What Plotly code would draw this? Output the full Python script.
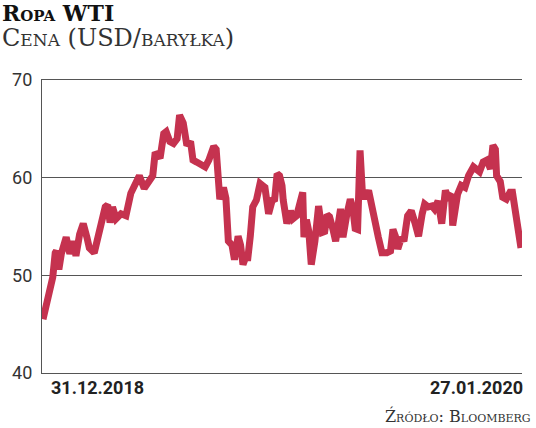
import plotly.graph_objects as go

dates = [
    "2018-12-31", "2019-01-04", "2019-01-08", "2019-01-10", "2019-01-11", "2019-01-13",
    "2019-01-15", "2019-01-19", "2019-01-22", "2019-01-25", "2019-01-27", "2019-01-30",
    "2019-02-02", "2019-02-05", "2019-02-07", "2019-02-11", "2019-02-15", "2019-02-20",
    "2019-02-22", "2019-02-24", "2019-02-26", "2019-03-01", "2019-03-05", "2019-03-09",
    "2019-03-13", "2019-03-18", "2019-03-20", "2019-03-24", "2019-03-28", "2019-03-31",
    "2019-04-02", "2019-04-05", "2019-04-06", "2019-04-09", "2019-04-11", "2019-04-14",
    "2019-04-17", "2019-04-20", "2019-04-22", "2019-04-25", "2019-04-28", "2019-05-01",
    "2019-05-03", "2019-05-06", "2019-05-09", "2019-05-13", "2019-05-16", "2019-05-20",
    "2019-05-22", "2019-05-25", "2019-05-28", "2019-05-30", "2019-06-01", "2019-06-04",
    "2019-06-06", "2019-06-09", "2019-06-11", "2019-06-13", "2019-06-15", "2019-06-17",
    "2019-06-19", "2019-06-21", "2019-06-24", "2019-06-27", "2019-06-29", "2019-07-01",
    "2019-07-04", "2019-07-07", "2019-07-09", "2019-07-11", "2019-07-13", "2019-07-15",
    "2019-07-16", "2019-07-19", "2019-07-22", "2019-07-24", "2019-07-27", "2019-07-30",
    "2019-08-01", "2019-08-02", "2019-08-04", "2019-08-06", "2019-08-08", "2019-08-11",
    "2019-08-14", "2019-08-17", "2019-08-19", "2019-08-21", "2019-08-23", "2019-08-26",
    "2019-08-28", "2019-09-01", "2019-09-03", "2019-09-06", "2019-09-09", "2019-09-11",
    "2019-09-13", "2019-09-15", "2019-09-17", "2019-09-19", "2019-09-21", "2019-09-24",
    "2019-09-27", "2019-09-29", "2019-10-02", "2019-10-05", "2019-10-09", "2019-10-12",
    "2019-10-14", "2019-10-16", "2019-10-18", "2019-10-21", "2019-10-23", "2019-10-26",
    "2019-10-29", "2019-11-01", "2019-11-04", "2019-11-07", "2019-11-09", "2019-11-12",
    "2019-11-15", "2019-11-17", "2019-11-20", "2019-11-23", "2019-11-26", "2019-11-28",
    "2019-12-01", "2019-12-02", "2019-12-04", "2019-12-06", "2019-12-09", "2019-12-12",
    "2019-12-15", "2019-12-19", "2019-12-22", "2019-12-24", "2019-12-27", "2019-12-30",
    "2020-01-02", "2020-01-04", "2020-01-06", "2020-01-07", "2020-01-10", "2020-01-12",
    "2020-01-15", "2020-01-18", "2020-01-20", "2020-01-23", "2020-01-27",
]

prices = [
    45.5, 47.4, 49.8, 52.3, 52.5, 50.6,
    52.2, 53.9, 52.2, 53.5, 52.0, 54.2,
    55.3, 53.9, 52.8, 52.3, 54.2, 57.0,
    57.2, 55.4, 57.0, 55.8, 56.3, 56.1,
    58.4, 59.5, 60.2, 58.9, 59.7, 60.2,
    62.6, 62.3, 62.0, 64.5, 64.7, 63.7,
    63.5, 64.0, 66.4, 65.6, 63.3, 63.7,
    61.8, 61.6, 61.4, 61.1, 61.8, 63.2,
    62.9, 57.8, 59.0, 57.9, 53.5, 53.1,
    51.6, 54.0, 53.1, 51.1, 51.8, 51.8,
    54.0, 57.0, 57.7, 59.4, 59.2, 59.0,
    56.3, 57.7, 57.8, 60.4, 60.2, 59.2,
    57.7, 55.3, 56.6, 55.8, 56.1, 58.0,
    58.5, 53.9, 55.7, 54.5, 51.1, 53.5,
    57.1, 54.4, 54.5, 56.2, 56.0, 54.6,
    53.5, 56.8, 53.9, 56.1, 57.8, 56.9,
    54.8, 54.7, 62.8, 58.3, 57.9, 58.7,
    56.6, 56.1, 53.9, 52.3, 52.3, 52.5,
    54.7, 54.0, 52.7, 53.9, 53.5, 56.1,
    56.6, 55.4, 54.0, 56.3, 57.3, 57.0,
    57.1, 56.8, 57.6, 55.3, 58.7, 58.0,
    58.3, 55.1, 56.6, 58.3, 59.2, 59.0,
    60.2, 61.1, 60.8, 60.6, 61.6, 61.8,
    60.9, 63.3, 62.9, 60.2, 59.6, 58.0,
    57.8, 58.5, 58.5, 55.8, 52.8,
]

y_ticks = [40, 50, 60, 70]
first_label = "31.12.2018"
last_label = "27.01.2020"
title_text = "Ropa WTI"
subtitle_text = "Cena (USD/baryłka)"
source_text = "Źródło: Bloomberg"

LINE = "#C5324F"
GRID = "#555555"

fig = go.Figure()
fig.add_trace(go.Scatter(
    x=dates, y=prices, mode="lines",
    line=dict(color=LINE, width=7),
    hoverinfo="skip", showlegend=False,
))

PW, PH = 480, 293  # plot area size in px

header = (
    "<span style='font-size:22px;color:#111111'><b>" + title_text + "</b></span><br>"
    "<span style='font-size:24px;color:#333333'>" + subtitle_text + "</span>"
)

fig.update_layout(
    width=536, height=428,
    margin=dict(l=42, r=14, t=80, b=55),
    paper_bgcolor="white", plot_bgcolor="white",
    xaxis=dict(
        range=["2018-12-30 04:00", "2020-01-27 20:00"],
        showgrid=False, zeroline=False,
        showline=True, mirror=True, linecolor=GRID, linewidth=1.3,
        showticklabels=False, ticks="",
    ),
    yaxis=dict(
        range=[40, 70], tickvals=y_ticks, ticktext=[str(t) for t in y_ticks],
        showgrid=True, gridcolor=GRID, gridwidth=1.3,
        zeroline=False, showline=True, linecolor=GRID, linewidth=1.3,
        ticks="", ticklabelstandoff=5,
        tickfont=dict(family="Roboto", size=18, color="#333333"),
    ),
    annotations=[
        dict(text=header, xref="paper", yref="paper", align="left",
             x=-42 / PW, y=(373 + 2) / PH, xanchor="left", yanchor="top",
             showarrow=False,
             font=dict(family="DejaVu Serif", size=19, color="#333333", variant="small-caps")),
        dict(text="<b>" + first_label + "</b>", xref="paper", yref="paper",
             x=(49 - 42) / PW, y=-(375 - 373) / PH, xanchor="left", yanchor="top",
             showarrow=False,
             font=dict(family="Roboto", size=18, color="#222222")),
        dict(text="<b>" + last_label + "</b>", xref="paper", yref="paper",
             x=(525 - 42) / PW, y=-(375 - 373) / PH, xanchor="right", yanchor="top",
             showarrow=False,
             font=dict(family="Roboto", size=18, color="#222222")),
        dict(text=source_text, xref="paper", yref="paper",
             x=(533 - 42) / PW, y=-(428 - 373) / PH, xanchor="right", yanchor="bottom",
             showarrow=False,
             font=dict(family="DejaVu Serif", size=16, color="#333333", variant="small-caps")),
    ],
)

fig.write_html("out.html", config={"displayModeBar": False},
               post_script="document.body.style.margin='0';")
